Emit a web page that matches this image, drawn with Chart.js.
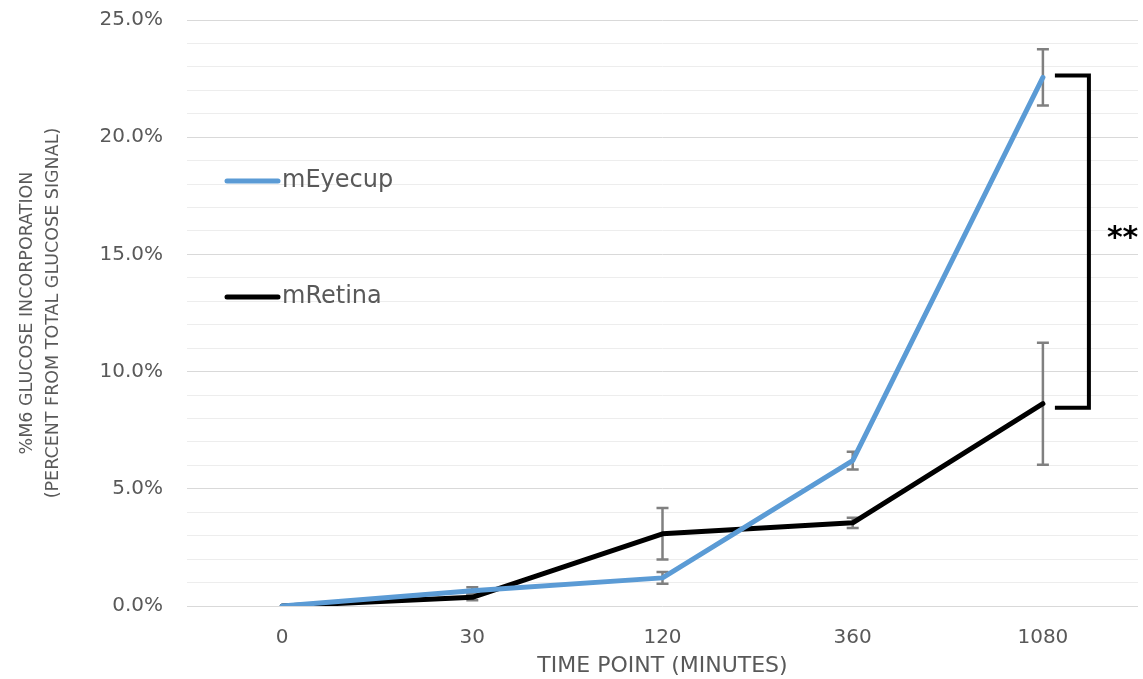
<!DOCTYPE html>
<html>
<head>
<meta charset="utf-8">
<script src="https://cdn.jsdelivr.net/npm/chart.js@4/dist/chart.umd.min.js"></script>
<style>
html,body{margin:0;padding:0;background:#fff}
#wrap{width:1143px;height:679px;position:relative}
</style>
</head>
<body>
<div id="wrap"><canvas id="chart"></canvas></div>
<script>
// time points (minutes)
const timePoints = ['0', '30', '120', '360', '1080'];

// % M6 glucose incorporation
const eyecup = [0, 0.65, 1.2, 6.2, 22.55];
const eyecupErr = [0, 0.15, 0.25, 0.38, 1.2];
const retina = [0, 0.37, 3.08, 3.55, 8.63];
const retinaErr = [0, 0.12, 1.1, 0.22, 2.6];

const seriesNames = ['mEyecup', 'mRetina'];
const seriesColors = ['#5b9bd5', '#000000'];

const yMin = 0, yMax = 25, yMajor = 5;

const textGrey = '#595959';
const fontName = '"DejaVu Sans", sans-serif';

// error bars, drawn under the lines
const errorBars = {
  id: 'errorBars',
  beforeDatasetsDraw(chart) {
    const y = chart.scales.y;
    const ctx = chart.ctx;
    ctx.save();
    ctx.strokeStyle = '#808080';
    ctx.lineWidth = 2.5;
    chart.data.datasets.forEach((ds, i) => {
      const meta = chart.getDatasetMeta(i);
      meta.data.forEach((pt, j) => {
        const e = ds.errors[j];
        if (!e) return;
        const top = y.getPixelForValue(ds.data[j] + e);
        const bot = y.getPixelForValue(ds.data[j] - e);
        ctx.beginPath();
        ctx.moveTo(pt.x, top); ctx.lineTo(pt.x, bot);
        ctx.moveTo(pt.x - 6, top); ctx.lineTo(pt.x + 6, top);
        ctx.moveTo(pt.x - 6, bot); ctx.lineTo(pt.x + 6, bot);
        ctx.stroke();
      });
    });
    ctx.restore();
  }
};

// significance bracket at the last time point
const bracket = {
  id: 'bracket',
  afterDatasetsDraw(chart) {
    const x = chart.scales.x, y = chart.scales.y;
    const ctx = chart.ctx;
    const last = timePoints.length - 1;
    const px = x.getPixelForValue(last);
    const yTop = y.getPixelForValue(eyecup[last]) - 2;
    const yBot = y.getPixelForValue(retina[last]) + 4;
    const x0 = px + 12, x1 = px + 46;
    ctx.save();
    ctx.strokeStyle = '#000';
    ctx.lineWidth = 4;
    ctx.lineJoin = 'miter';
    ctx.beginPath();
    ctx.moveTo(x0, yTop); ctx.lineTo(x1, yTop);
    ctx.lineTo(x1, yBot); ctx.lineTo(x0, yBot);
    ctx.stroke();
    ctx.fillStyle = '#000';
    ctx.font = 'bold 30px ' + fontName;
    ctx.textAlign = 'left';
    ctx.textBaseline = 'middle';
    ctx.fillText('**', x1 + 18, (yTop + yBot) / 2 - 2);
    ctx.restore();
  }
};

// legend inside the plot, upper left
const insideLegend = {
  id: 'insideLegend',
  afterDraw(chart) {
    const a = chart.chartArea;
    const ctx = chart.ctx;
    const rows = [a.top + 161, a.top + 277];
    ctx.save();
    ctx.font = '24px ' + fontName;
    ctx.textBaseline = 'middle';
    ctx.textAlign = 'left';
    seriesNames.forEach((name, i) => {
      const ly = rows[i];
      ctx.strokeStyle = seriesColors[i];
      ctx.lineWidth = 5;
      ctx.lineCap = 'round';
      ctx.beginPath();
      ctx.moveTo(a.left + 40, ly); ctx.lineTo(a.left + 91, ly);
      ctx.stroke();
      ctx.fillStyle = textGrey;
      ctx.fillText(name, a.left + 95, ly);
    });
    ctx.restore();
  }
};

new Chart(document.getElementById('chart'), {
  type: 'line',
  data: {
    labels: timePoints,
    datasets: [
      { label: seriesNames[0], data: eyecup, errors: eyecupErr },
      { label: seriesNames[1], data: retina, errors: retinaErr }
    ].map((d, i) => Object.assign(d, {
      borderColor: seriesColors[i],
      backgroundColor: seriesColors[i],
      borderWidth: 5,
      pointRadius: 0,
      tension: 0,
      borderJoinStyle: 'round',
      borderCapStyle: 'round',
      fill: false
    }))
  },
  options: {
    responsive: true,
    maintainAspectRatio: false,
    devicePixelRatio: 1,
    animation: false,
    layout: { padding: { left: 5, right: 5, top: 20, bottom: 0 } },
    plugins: {
      legend: { display: false },
      tooltip: { enabled: false }
    },
    scales: {
      x: {
        offset: true,
        grid: { display: false, drawTicks: false },
        border: { display: false },
        ticks: { color: textGrey, font: { family: fontName, size: 20 }, padding: 20 },
        title: {
          display: true,
          text: 'TIME POINT (MINUTES)',
          color: textGrey,
          font: { family: fontName, size: 22 },
          padding: { top: 0, bottom: 0 }
        },
        afterFit(s) { s.height = 73; s.paddingLeft = 0; s.paddingRight = 0; }
      },
      y: {
        min: yMin,
        max: yMax,
        grid: {
          drawTicks: false,
          color: c => (c.tick && c.tick.value % yMajor === 0) ? '#d9d9d9' : '#ededed',
          lineWidth: 1
        },
        border: { display: false },
        ticks: {
          stepSize: 1,
          autoSkip: false,
          padding: 24,
          color: textGrey,
          font: { family: fontName, size: 20 },
          callback: v => v % yMajor === 0 ? v.toFixed(1) + '%' : ''
        },
        title: {
          display: true,
          text: ['%M6 GLUCOSE INCORPORATION', '(PERCENT FROM TOTAL GLUCOSE SIGNAL)'],
          color: textGrey,
          font: { family: fontName, size: 17.5, lineHeight: 1.45 },
          padding: { top: 10, bottom: 0 }
        },
        afterFit(s) { s.width = 182; s.paddingTop = 0; s.paddingBottom = 0; }
      }
    }
  },
  plugins: [errorBars, bracket, insideLegend]
});
</script>
</body>
</html>
